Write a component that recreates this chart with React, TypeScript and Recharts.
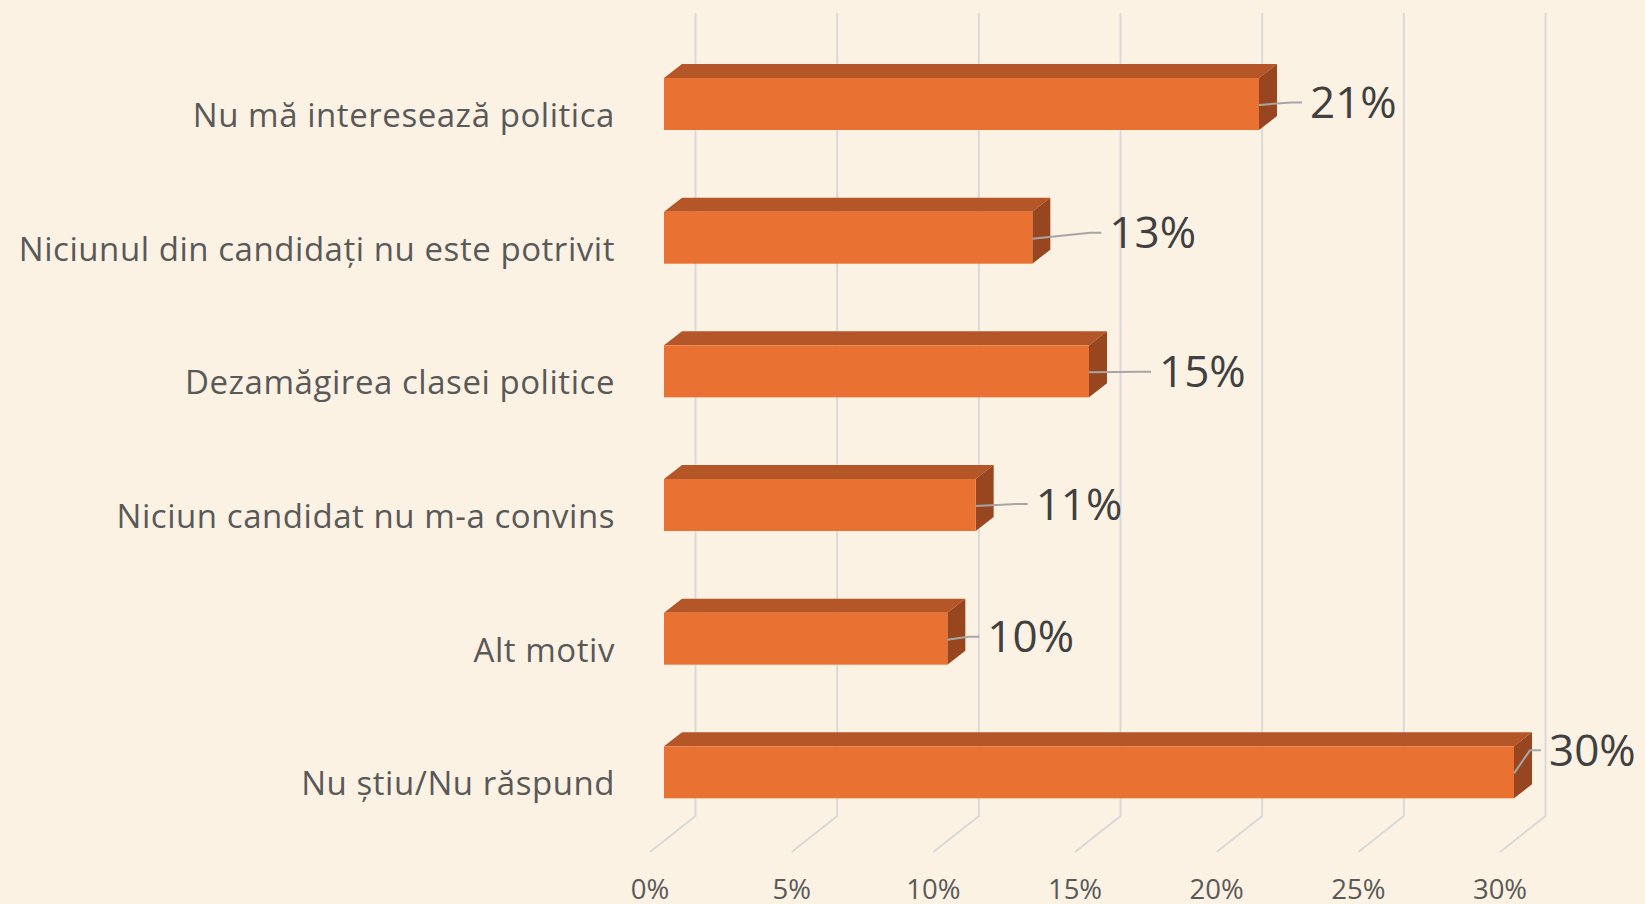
import React from 'react';
import { BarChart, Bar, XAxis, YAxis, CartesianGrid } from 'recharts';

// ---- data ----
const categories = [
  'Nu mă interesează politica',
  'Niciunul din candidați nu este potrivit',
  'Dezamăgirea clasei politice',
  'Niciun candidat nu m-a convins',
  'Alt motiv',
  'Nu știu/Nu răspund',
];
const values = [21, 13, 15, 11, 10, 30];
const tickValues = [0, 5, 10, 15, 20, 25, 30];
const tickLabels = ['0%', '5%', '10%', '15%', '20%', '25%', '30%'];

// manual data-label placement (gap from bar end, vertical nudge), as in the original
const labelGap = [54, 80, 73, 63, 43, 38];
const labelLift = [-1.6, -5, 0.5, -1, -2, -22];

const data = categories.map((name, i) => ({ name, value: values[i] }));

// ---- style ----
const BG = '#FCF2E4';
const FRONT = '#E97132';
const TOP = '#B45627';
const SIDE = '#97461F';
const GRID = '#D9D9D9';
const DX = 18;
const DY = 14;
const FONT = '"Open Sans", "Noto Sans", sans-serif';

function Box3D(props: any) {
  const { x, y, width, height, payload } = props;
  let index = props.index;
  if (typeof index !== 'number') index = categories.indexOf(payload?.name);
  const v = payload?.value;
  const fr = x + width;
  const cy = y + height / 2;
  const lx = fr + labelGap[index];
  const ly = cy + labelLift[index];
  return (
    <g>
      <polygon
        points={`${x},${y} ${x + DX},${y - DY} ${fr + DX},${y - DY} ${fr},${y}`}
        fill={TOP}
      />
      <polygon
        points={`${fr},${y} ${fr + DX},${y - DY} ${fr + DX},${y + height - DY} ${fr},${y + height}`}
        fill={SIDE}
      />
      <rect x={x} y={y} width={width} height={height} fill={FRONT} />
      <path
        d={`M${fr},${cy + 1} L${lx - 22},${ly} L${lx - 11},${ly}`}
        stroke="#A6A6A6"
        strokeWidth={2}
        fill="none"
      />
      <text
        x={lx - 3}
        y={ly + 15.5}
        fontFamily={FONT}
        fontSize={44}
        fill="#404040"
        textAnchor="start"
      >
        {`${v}%`}
      </text>
    </g>
  );
}

function YTick(props: any) {
  const { x, y, payload } = props;
  return (
    <text
      x={x - 49}
      y={y + 23}
      textAnchor="end"
      fontFamily={FONT}
      fontSize={33}
      letterSpacing={0.55}
      fill="#595959"
    >
      {payload.value}
    </text>
  );
}

function XTick(props: any) {
  const { x, y, payload } = props;
  const i = tickValues.indexOf(payload.value);
  return (
    <text
      x={x - 14}
      y={y + 60}
      textAnchor="middle"
      fontFamily={FONT}
      fontSize={27.5}
      fill="#595959"
    >
      {tickLabels[i]}
    </text>
  );
}

function GridLine(p: any) {
  const { x1, y1, y2 } = p;
  return (
    <path
      key={`g-${x1}`}
      d={`M${x1 + 31.5},${y1 - 24} L${x1 + 31.5},${y2 - 23} L${x1 - 14},${y2 + 13}`}
      stroke={GRID}
      strokeWidth={2}
      fill="none"
    />
  );
}

export default function App() {
  return (
    <div
      style={{
        position: 'absolute',
        left: 0,
        top: 0,
        width: 1645,
        height: 904,
        background: BG,
        overflow: 'hidden',
      }}
    >
      <BarChart
        width={1645}
        height={904}
        data={data}
        layout="vertical"
        margin={{ top: 37, right: 131, bottom: 0, left: 0 }}
        barSize={52}
      >
        <CartesianGrid horizontal={false} vertical={GridLine as any} />
        <XAxis
          type="number"
          domain={[0, 30]}
          ticks={tickValues}
          interval={0}
          axisLine={false}
          tickLine={false}
          tickSize={0}
          tickMargin={0}
          height={65}
          tick={XTick}
        />
        <YAxis
          type="category"
          dataKey="name"
          width={664}
          interval={0}
          axisLine={false}
          tickLine={false}
          tickSize={0}
          tickMargin={0}
          tick={YTick}
        />
        <Bar dataKey="value" shape={Box3D} isAnimationActive={false} />
      </BarChart>
    </div>
  );
}
